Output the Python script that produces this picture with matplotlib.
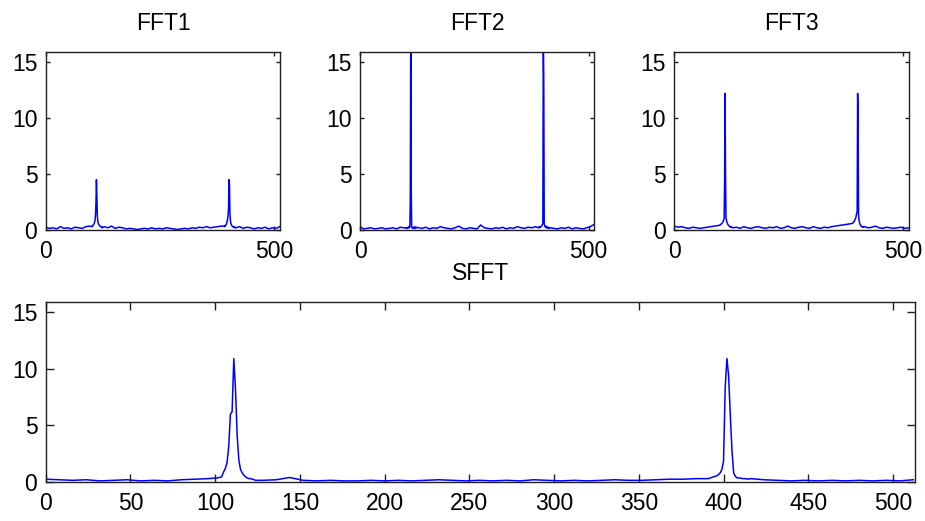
import numpy as np
import matplotlib
matplotlib.use("Agg")
import matplotlib.pyplot as plt

plt.rcParams['font.family'] = ['Liberation Sans', 'DejaVu Sans']

# frequency bins: coarse where the spectrum is flat, every bin around the peaks
bins = np.concatenate([np.arange(0, 100, 8), np.arange(100, 125),
                       np.arange(128, 390, 8), np.arange(390, 415),
                       np.arange(416, 513, 8)])

# FFT1
fft1_low = [0.25, 0.15, 0.2, 0.1, 0.3, 0.15, 0.2, 0.1, 0.25, 0.2, 0.15, 0.3, 0.35]
fft1_peak1 = [0.3, 0.35, 0.3, 0.4, 0.45, 0.5, 0.6, 0.7, 0.9, 1.4, 2.4, 4.5, 3.0,
              1.2, 0.8, 0.6, 0.5, 0.45, 0.4, 0.35, 0.3, 0.3, 0.25, 0.3, 0.2]
fft1_mid = [0.3, 0.2, 0.35, 0.15, 0.25, 0.2, 0.1, 0.15, 0.1, 0.05, 0.1, 0.15, 0.1,
            0.2, 0.1, 0.15, 0.1, 0.2, 0.15, 0.1, 0.05, 0.1, 0.15, 0.1, 0.2, 0.15,
            0.25, 0.2, 0.3, 0.2, 0.25, 0.3, 0.35]
fft1_peak2 = [0.35, 0.3, 0.4, 0.35, 0.45, 0.5, 0.6, 0.8, 1.0, 1.3, 1.9, 4.5, 4.2,
              1.5, 0.9, 0.6, 0.5, 0.4, 0.35, 0.3, 0.3, 0.25, 0.3, 0.2, 0.25]
fft1_high = [0.2, 0.3, 0.15, 0.25, 0.2, 0.1, 0.2, 0.15, 0.25, 0.1, 0.2, 0.15, 0.3]

# FFT2
fft2_low = [0.3, 0.1, 0.15, 0.2, 0.1, 0.15, 0.2, 0.1, 0.15, 0.2, 0.1, 0.25, 0.2]
fft2_peak1 = [0.2, 0.15, 0.2, 0.15, 0.2, 0.25, 0.2, 0.3, 0.2, 0.3, 2.6, 17.0, 3.8,
              0.3, 0.2, 0.15, 0.2, 0.25, 0.15, 0.2, 0.3, 0.2, 0.15, 0.2, 0.25]
fft2_mid = [0.2, 0.15, 0.25, 0.1, 0.2, 0.15, 0.3, 0.2, 0.15, 0.1, 0.2, 0.35, 0.15,
            0.1, 0.2, 0.15, 0.1, 0.45, 0.2, 0.15, 0.1, 0.2, 0.15, 0.25, 0.1, 0.2,
            0.15, 0.3, 0.2, 0.15, 0.25, 0.2, 0.3]
fft2_peak2 = [0.2, 0.25, 0.3, 0.2, 0.3, 0.25, 0.3, 0.35, 0.4, 0.5, 0.6, 17.0, 13.6,
              0.5, 0.4, 0.3, 0.35, 0.2, 0.25, 0.3, 0.2, 0.15, 0.25, 0.2, 0.15]
fft2_high = [0.2, 0.15, 0.1, 0.2, 0.15, 0.25, 0.1, 0.2, 0.15, 0.1, 0.2, 0.3, 0.5]

# FFT3
fft3_low = [0.35, 0.25, 0.3, 0.2, 0.15, 0.25, 0.2, 0.15, 0.2, 0.25, 0.3, 0.35, 0.4]
fft3_peak1 = [0.45, 0.5, 0.5, 0.55, 0.6, 0.65, 0.7, 0.8, 0.9, 1.0, 4.2, 12.2, 4.9,
              1.1, 0.9, 0.7, 0.6, 0.5, 0.45, 0.4, 0.35, 0.3, 0.3, 0.25, 0.3]
fft3_mid = [0.2, 0.25, 0.15, 0.3, 0.2, 0.15, 0.25, 0.3, 0.2, 0.15, 0.25, 0.2, 0.3,
            0.15, 0.2, 0.35, 0.2, 0.15, 0.25, 0.3, 0.2, 0.15, 0.3, 0.2, 0.15, 0.25,
            0.2, 0.3, 0.35, 0.4, 0.45, 0.5, 0.55]
fft3_peak2 = [0.6, 0.65, 0.7, 0.75, 0.8, 0.9, 1.0, 1.1, 1.3, 1.5, 1.6, 12.2, 10.5,
              1.4, 0.9, 0.7, 0.55, 0.45, 0.4, 0.35, 0.3, 0.3, 0.25, 0.3, 0.25]
fft3_high = [0.3, 0.2, 0.25, 0.35, 0.2, 0.15, 0.25, 0.2, 0.15, 0.2, 0.25, 0.15, 0.2]

# SFFT
sfft_low = [0.25, 0.2, 0.15, 0.2, 0.1, 0.15, 0.2, 0.1, 0.15, 0.1, 0.2, 0.25, 0.3]
sfft_peak1 = [0.35, 0.35, 0.4, 0.4, 0.5, 0.9, 1.2, 1.7, 3.1, 6.0, 6.2, 10.9, 8.2,
              4.1, 1.9, 1.1, 0.8, 0.6, 0.45, 0.35, 0.3, 0.3, 0.25, 0.2, 0.15]
sfft_mid = [0.15, 0.2, 0.4, 0.15, 0.1, 0.15, 0.1, 0.1, 0.15, 0.1, 0.15, 0.1, 0.15,
            0.2, 0.15, 0.1, 0.15, 0.1, 0.15, 0.1, 0.2, 0.15, 0.1, 0.15, 0.1, 0.15,
            0.2, 0.15, 0.15, 0.2, 0.25, 0.25, 0.3]
sfft_peak2 = [0.3, 0.3, 0.35, 0.4, 0.45, 0.5, 0.55, 0.65, 0.8, 1.1, 1.85, 8.4, 10.9,
              9.4, 5.9, 2.75, 0.8, 0.5, 0.36, 0.36, 0.35, 0.3, 0.3, 0.3, 0.25]
sfft_high = [0.3, 0.2, 0.15, 0.1, 0.15, 0.1, 0.15, 0.1, 0.15, 0.1, 0.15, 0.1, 0.2]

top_titles = ['FFT1', 'FFT2', 'FFT3']
top_ticks = [0, 500]
bottom_ticks = np.arange(0, 501, 50)
y_ticks = [0, 5, 10, 15]


def spectrum(*parts):
    return np.concatenate([np.asarray(p, dtype=float) for p in parts])


def style_axes(ax, ticklen):
    ax.set_xlim(0, 513)
    ax.set_ylim(0, 15.9)
    ax.set_yticks(y_ticks)
    ax.tick_params(direction='in', top=True, right=True, length=ticklen,
                   width=1.0, labelsize=16.5, color='#202020')
    ax.tick_params(axis='x', pad=7)
    ax.tick_params(axis='y', pad=6)
    for sp in ax.spines.values():
        sp.set_linewidth(1.0)
        sp.set_color('#202020')


fig = plt.figure(figsize=(9.25, 5.21), dpi=100)

top_series = [spectrum(fft1_low, fft1_peak1, fft1_mid, fft1_peak2, fft1_high),
              spectrum(fft2_low, fft2_peak1, fft2_mid, fft2_peak2, fft2_high),
              spectrum(fft3_low, fft3_peak1, fft3_mid, fft3_peak2, fft3_high)]
top_lefts = [0.0494, 0.3892, 0.729]

for left, title, vals in zip(top_lefts, top_titles, top_series):
    ax = fig.add_axes([left, 0.5585, 0.2535, 0.3417])
    ax.plot(bins, vals, color='#0000ff', lw=1.1)
    style_axes(ax, 3)
    ax.set_xticks(top_ticks)
    ax.set_title(title, fontsize=16.5, pad=16)

ax = fig.add_axes([0.0494, 0.0748, 0.9398, 0.3456])
ax.plot(bins, spectrum(sfft_low, sfft_peak1, sfft_mid, sfft_peak2, sfft_high),
        color='#0000ff', lw=1.1)
style_axes(ax, 6)
ax.set_xticks(bottom_ticks)
ax.set_title('SFFT', fontsize=16.5, pad=16)

fig.savefig('out.png', dpi=100)
